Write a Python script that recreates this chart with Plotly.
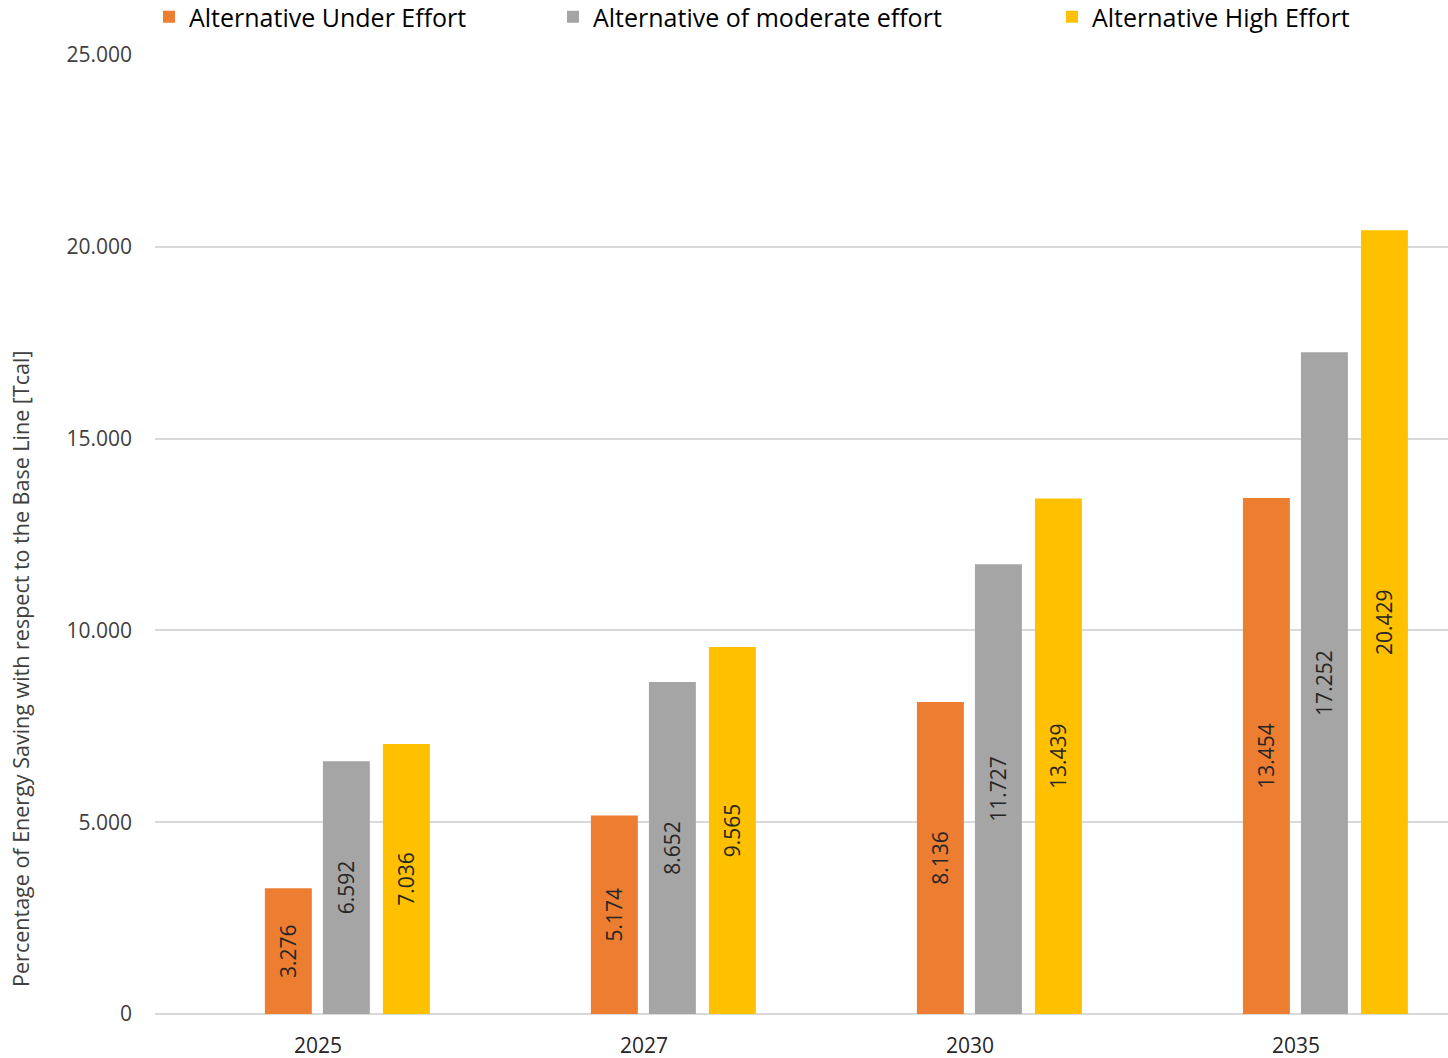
import plotly.graph_objects as go

years = ["2025", "2027", "2030", "2035"]
under_effort = [3276, 5174, 8136, 13454]
moderate_effort = [6592, 8652, 11727, 17252]
high_effort = [7036, 9565, 13439, 20429]

series_names = ["Alternative Under Effort", "Alternative of moderate effort", "Alternative High Effort"]
colors = ["#ED7D31", "#A5A5A5", "#FFC000"]
y_ticks = [0, 5000, 10000, 15000, 20000, 25000]
y_tick_text = ["0", "5.000", "10.000", "15.000", "20.000", "25.000"]
y_title = "Percentage of Energy Saving with respect to the Base Line [Tcal]"

FONT = "Open Sans"
fig = go.Figure()
legends = ["legend", "legend2", "legend3"]
offsets = [-0.163, 0.015, 0.199]
for name, vals, col, lg, off in zip(series_names, [under_effort, moderate_effort, high_effort],
                                   colors, legends, offsets):
    fig.add_trace(go.Bar(
        x=years, y=vals, name=name, marker_color=col, marker_line_width=0,
        offset=off, width=0.144,
        texttemplate="%{y:,d}", textposition="inside", insidetextanchor="middle",
        textangle=-90, textfont=dict(family=FONT, size=21, color="#262626"),
        legend=lg, showlegend=True,
    ))

leg_common = dict(orientation="h", yref="container", y=(1058 - 17) / 1058, yanchor="middle",
                  xref="container", xanchor="left",
                  font=dict(family=FONT, size=25, color="#000000"),
                  bgcolor="rgba(0,0,0,0)", visible=True)
fig.update_layout(
    width=1448, height=1058,
    margin=dict(l=155, r=0, t=55, b=44, autoexpand=False),
    paper_bgcolor="white", plot_bgcolor="white",
    barmode="overlay",
    separators=",.",
    showlegend=True,
    legend=dict(**leg_common, x=149 / 1448),
    legend2=dict(**leg_common, x=553 / 1448),
    legend3=dict(**leg_common, x=1052 / 1448),
    font=dict(family=FONT, color="#404040"),
    xaxis=dict(showgrid=False, showline=False, ticks="", ticklabelstandoff=17,
               range=[-0.5, 3.466], automargin=False,
               tickfont=dict(family=FONT, size=21, color="#262626")),
    yaxis=dict(range=[0, 25000], tickvals=y_ticks, ticktext=y_tick_text,
               showgrid=True, gridcolor="#D9D9D9", gridwidth=1.5,
               zeroline=True, zerolinecolor="#D9D9D9", zerolinewidth=1.5,
               showline=False, ticks="", ticklabelstandoff=22, automargin=False,
               tickfont=dict(family=FONT, size=21, color="#404040")),
    annotations=[dict(text=y_title, textangle=-90, xref="paper", yref="paper",
                      x=-0.1045, y=(1014 - 669) / 959, xanchor="center", yanchor="middle",
                      showarrow=False, font=dict(family=FONT, size=21.5, color="#404040"))],
)
fig.write_html("out.html")
